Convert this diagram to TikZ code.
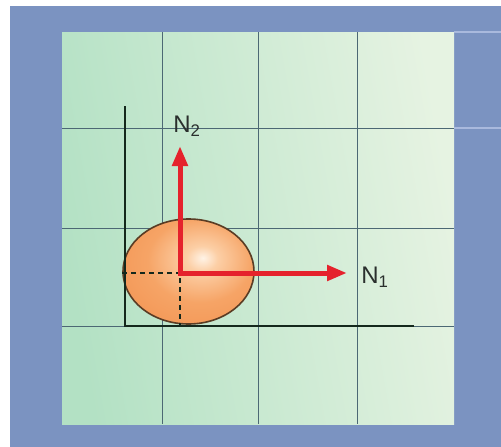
\documentclass[tikz,border=0pt]{standalone}
\usepackage{fontspec}
\setsansfont{Liberation Sans}
\usetikzlibrary{shapes.geometric,arrows.meta}
\definecolor{frameblue}{HTML}{7B93C1}
\definecolor{extblue}{HTML}{A9B9DD}
\definecolor{greenleft}{HTML}{B3E1C4}
\definecolor{greenright}{HTML}{E6F3E2}
\definecolor{gridcol}{HTML}{4C6874}
\definecolor{axiscol}{HTML}{14281C}
\definecolor{egghi}{HTML}{FFF3E6}
\definecolor{eggmid}{HTML}{FCCFA6}
\definecolor{eggedge}{HTML}{F6A466}
\definecolor{eggdeep}{HTML}{F29250}
\definecolor{eggborder}{HTML}{5A3C24}
\definecolor{vecred}{HTML}{E5222C}
\definecolor{lblcol}{HTML}{2A2F2D}
\pgfdeclareradialshading{eggshade}{\pgfpoint{5.5bp}{6.5bp}}{color(0bp)=(egghi);color(6bp)=(eggmid);color(20bp)=(eggedge);color(40bp)=(eggdeep);color(100bp)=(eggdeep)}
\tikzset{
  gridline/.style={draw=gridcol, line width=1pt},
  extline/.style={draw=extblue, line width=1.2pt},
  axisline/.style={draw=axiscol, line width=2pt},
  dashline/.style={draw=axiscol, line width=1.6pt, dash pattern=on 5pt off 4pt},
  vector/.style={draw=vecred, line width=5pt, {Triangle[length=20pt,width=15pt]}-{Triangle[length=20pt,width=15pt]}},
  lbl/.style={font=\sffamily\fontsize{24}{26}\selectfont, text=lblcol, inner sep=0pt},
  egg/.style={ellipse, draw=eggborder, line width=1.6pt, shading=eggshade, inner sep=0pt, minimum width=131pt, minimum height=105pt}
}
\begin{document}
\begin{tikzpicture}[x=1pt,y=-1pt]
\useasboundingbox (0,0) rectangle (501,447);
\fill[white] (0,0) rectangle (501,447);
\fill[frameblue] (10,6) rectangle (501,447);
\shade[left color=greenleft, right color=greenright, shading angle=100] (62,32) rectangle (454,424);
\foreach \x in {162,258,357} \draw[gridline] (\x,32) -- (\x,424);
\foreach \y in {128,228,326} \draw[gridline] (62,\y) -- (454,\y);
\draw[extline] (454,32) -- (501,32);
\draw[extline] (454,128) -- (501,128);
\node[egg] (egg) at (188.5,271.5) {};
\coordinate (o) at (180,273);
\coordinate (ytop) at (125,106);
\coordinate (corner) at (125,326);
\coordinate (xend) at (414,326);
\coordinate (n2tip) at (180,146);
\coordinate (n1tip) at (347,273);
\draw[axisline] (ytop) -- (corner) -- (xend);
\draw[dashline] (egg.west |- o) -- (o) -- (o |- corner);
\draw[vector] (n2tip) -- (o) -- (n1tip);
\node[lbl] (N2) at (187,126) {N\textsubscript{2}};
\node[lbl] (N1) at (375,277) {N\textsubscript{1}};
\end{tikzpicture}
\end{document}
